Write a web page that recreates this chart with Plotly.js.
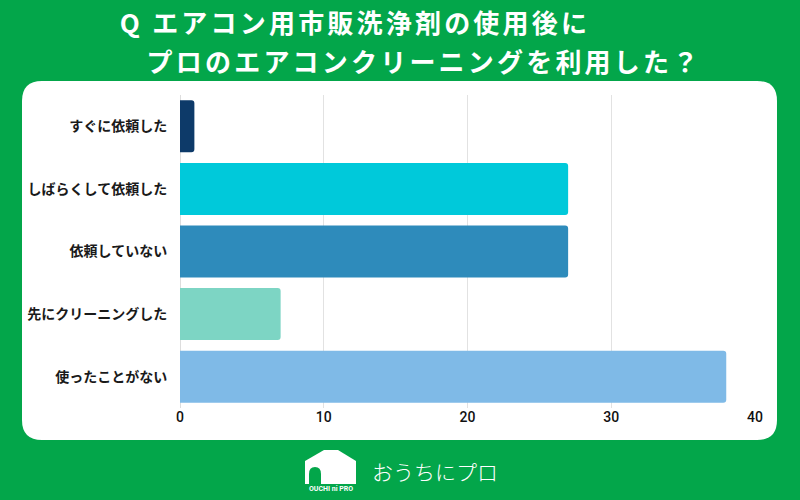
<!DOCTYPE html>
<html>
<head>
<meta charset="utf-8">
<script src="https://cdn.plot.ly/plotly-3.0.1.min.js"></script>
<style>html,body{margin:0;padding:0;background:#03a64a;}#chart{width:800px;height:500px;}</style>
</head>
<body>
<div id="chart"></div>
<script>
const categories = ["すぐに依頼した", "しばらくして依頼した", "依頼していない", "先にクリーニングした", "使ったことがない"];
const values = [1, 27, 27, 7, 38];
const barColors = ["#0d3a69", "#00c9da", "#2e8bbb", "#7dd5c4", "#7fbae7"];
const xTickValues = [0, 10, 20, 30, 40];
const titleLine1 = "Q エアコン用市販洗浄剤の使用後に";
const titleLine2 = "プロのエアコンクリーニングを利用した？";
const logoText = "おうちにプロ";
const logoSub = "OUCHI ni PRO";

const GREEN = "#03a64a";
const L = 180, R = 755, T = 95, B = 408;
function fx(x){ return (x - L) / (R - L); }
function fy(y){ return (B - y) / (B - T); }
function path(cmds){
  return cmds.map(c => {
    if (c[0] === 'Z') return 'Z';
    const pts = [];
    for (let i = 1; i < c.length; i += 2) pts.push(fx(c[i]).toFixed(5) + ',' + fy(c[i+1]).toFixed(5));
    return c[0] + pts.join(' ');
  }).join(' ');
}
const pl = 22, pr = 777, pt = 81, pb = 440, r = 20;
const panel = path([
  ['M', pl + r, pt], ['L', pr - r, pt], ['Q', pr, pt, pr, pt + r],
  ['L', pr, pb - r], ['Q', pr, pb, pr - r, pb],
  ['L', pl + r, pb], ['Q', pl, pb, pl, pb - r],
  ['L', pl, pt + r], ['Q', pl, pt, pl + r, pt], ['Z']
]);
const house = path([
  ['M', 305, 484], ['L', 305, 461], ['L', 324, 450], ['L', 338, 450], ['L', 356, 461], ['L', 356, 484], ['Z']
]);
const door = path([
  ['M', 309, 484], ['L', 309, 474], ['Q', 309, 467, 315, 467], ['Q', 321, 467, 321, 474], ['L', 321, 484], ['Z']
]);

const data = [{
  type: 'bar',
  orientation: 'h',
  y: categories,
  x: values,
  marker: { color: barColors, line: { width: 0 } },
  hoverinfo: 'x+y'
}];

const titleFont = { family: '"Noto Sans CJK JP", sans-serif', size: 26, color: '#ffffff', weight: 'bold' };

const layout = {
  width: 800, height: 500,
  paper_bgcolor: GREEN,
  plot_bgcolor: 'rgba(0,0,0,0)',
  margin: { l: L, r: 800 - R, t: T, b: 500 - B, pad: 0 },
  showlegend: false,
  bargap: 0.17,
  barcornerradius: 3,
  xaxis: {
    range: [0, 40],
    tickvals: xTickValues,
    ticktext: xTickValues.map(String),
    showgrid: true, gridcolor: '#e2e2e2', gridwidth: 1,
    zeroline: true, zerolinecolor: '#dddddd', zerolinewidth: 1,
    showline: false,
    ticks: '',
    ticklabelstandoff: -1,
    tickfont: { family: 'Roboto, sans-serif', size: 14, color: '#111111', weight: 500 },
    fixedrange: true
  },
  yaxis: {
    autorange: 'reversed',
    showgrid: false, zeroline: false, showline: false,
    ticks: 'outside', ticklen: 9, tickcolor: 'rgba(0,0,0,0)',
    tickfont: { family: '"Noto Sans CJK JP", sans-serif', size: 14, color: '#1a1a1a', weight: 'bold' },
    fixedrange: true
  },
  shapes: [
    { type: 'path', xref: 'paper', yref: 'paper', path: panel, fillcolor: '#ffffff', line: { width: 0 }, layer: 'below' },
    { type: 'path', xref: 'paper', yref: 'paper', path: house, fillcolor: '#ffffff', line: { width: 0 }, layer: 'above' },
    { type: 'path', xref: 'paper', yref: 'paper', path: door, fillcolor: GREEN, line: { width: 0 }, layer: 'above' }
  ],
  annotations: [
    { text: titleLine1, xref: 'paper', yref: 'paper', x: fx(355), y: fy(22), xanchor: 'center', yanchor: 'middle', showarrow: false, font: titleFont },
    { text: titleLine2, xref: 'paper', yref: 'paper', x: fx(424), y: fy(61), xanchor: 'center', yanchor: 'middle', showarrow: false, font: titleFont },
    { text: logoText, xref: 'paper', yref: 'paper', x: fx(370), y: fy(471), xanchor: 'left', yanchor: 'middle', showarrow: false,
      font: { family: '"Noto Sans CJK JP", sans-serif', size: 21, color: '#ffffff', weight: 300 } },
    { text: logoSub, xref: 'paper', yref: 'paper', x: fx(330.5), y: fy(489), xanchor: 'center', yanchor: 'middle', showarrow: false,
      font: { family: 'Roboto, sans-serif', size: 7, color: '#ffffff', weight: 'bold' } }
  ]
};

Plotly.newPlot('chart', data, layout, { displayModeBar: false, staticPlot: true }).then(gd => {
  const texts = gd.querySelectorAll('.annotation-text');
  [0, 1].forEach(i => { if (texts[i]) texts[i].style.letterSpacing = '3.2px'; });
});
</script>
</body>
</html>
